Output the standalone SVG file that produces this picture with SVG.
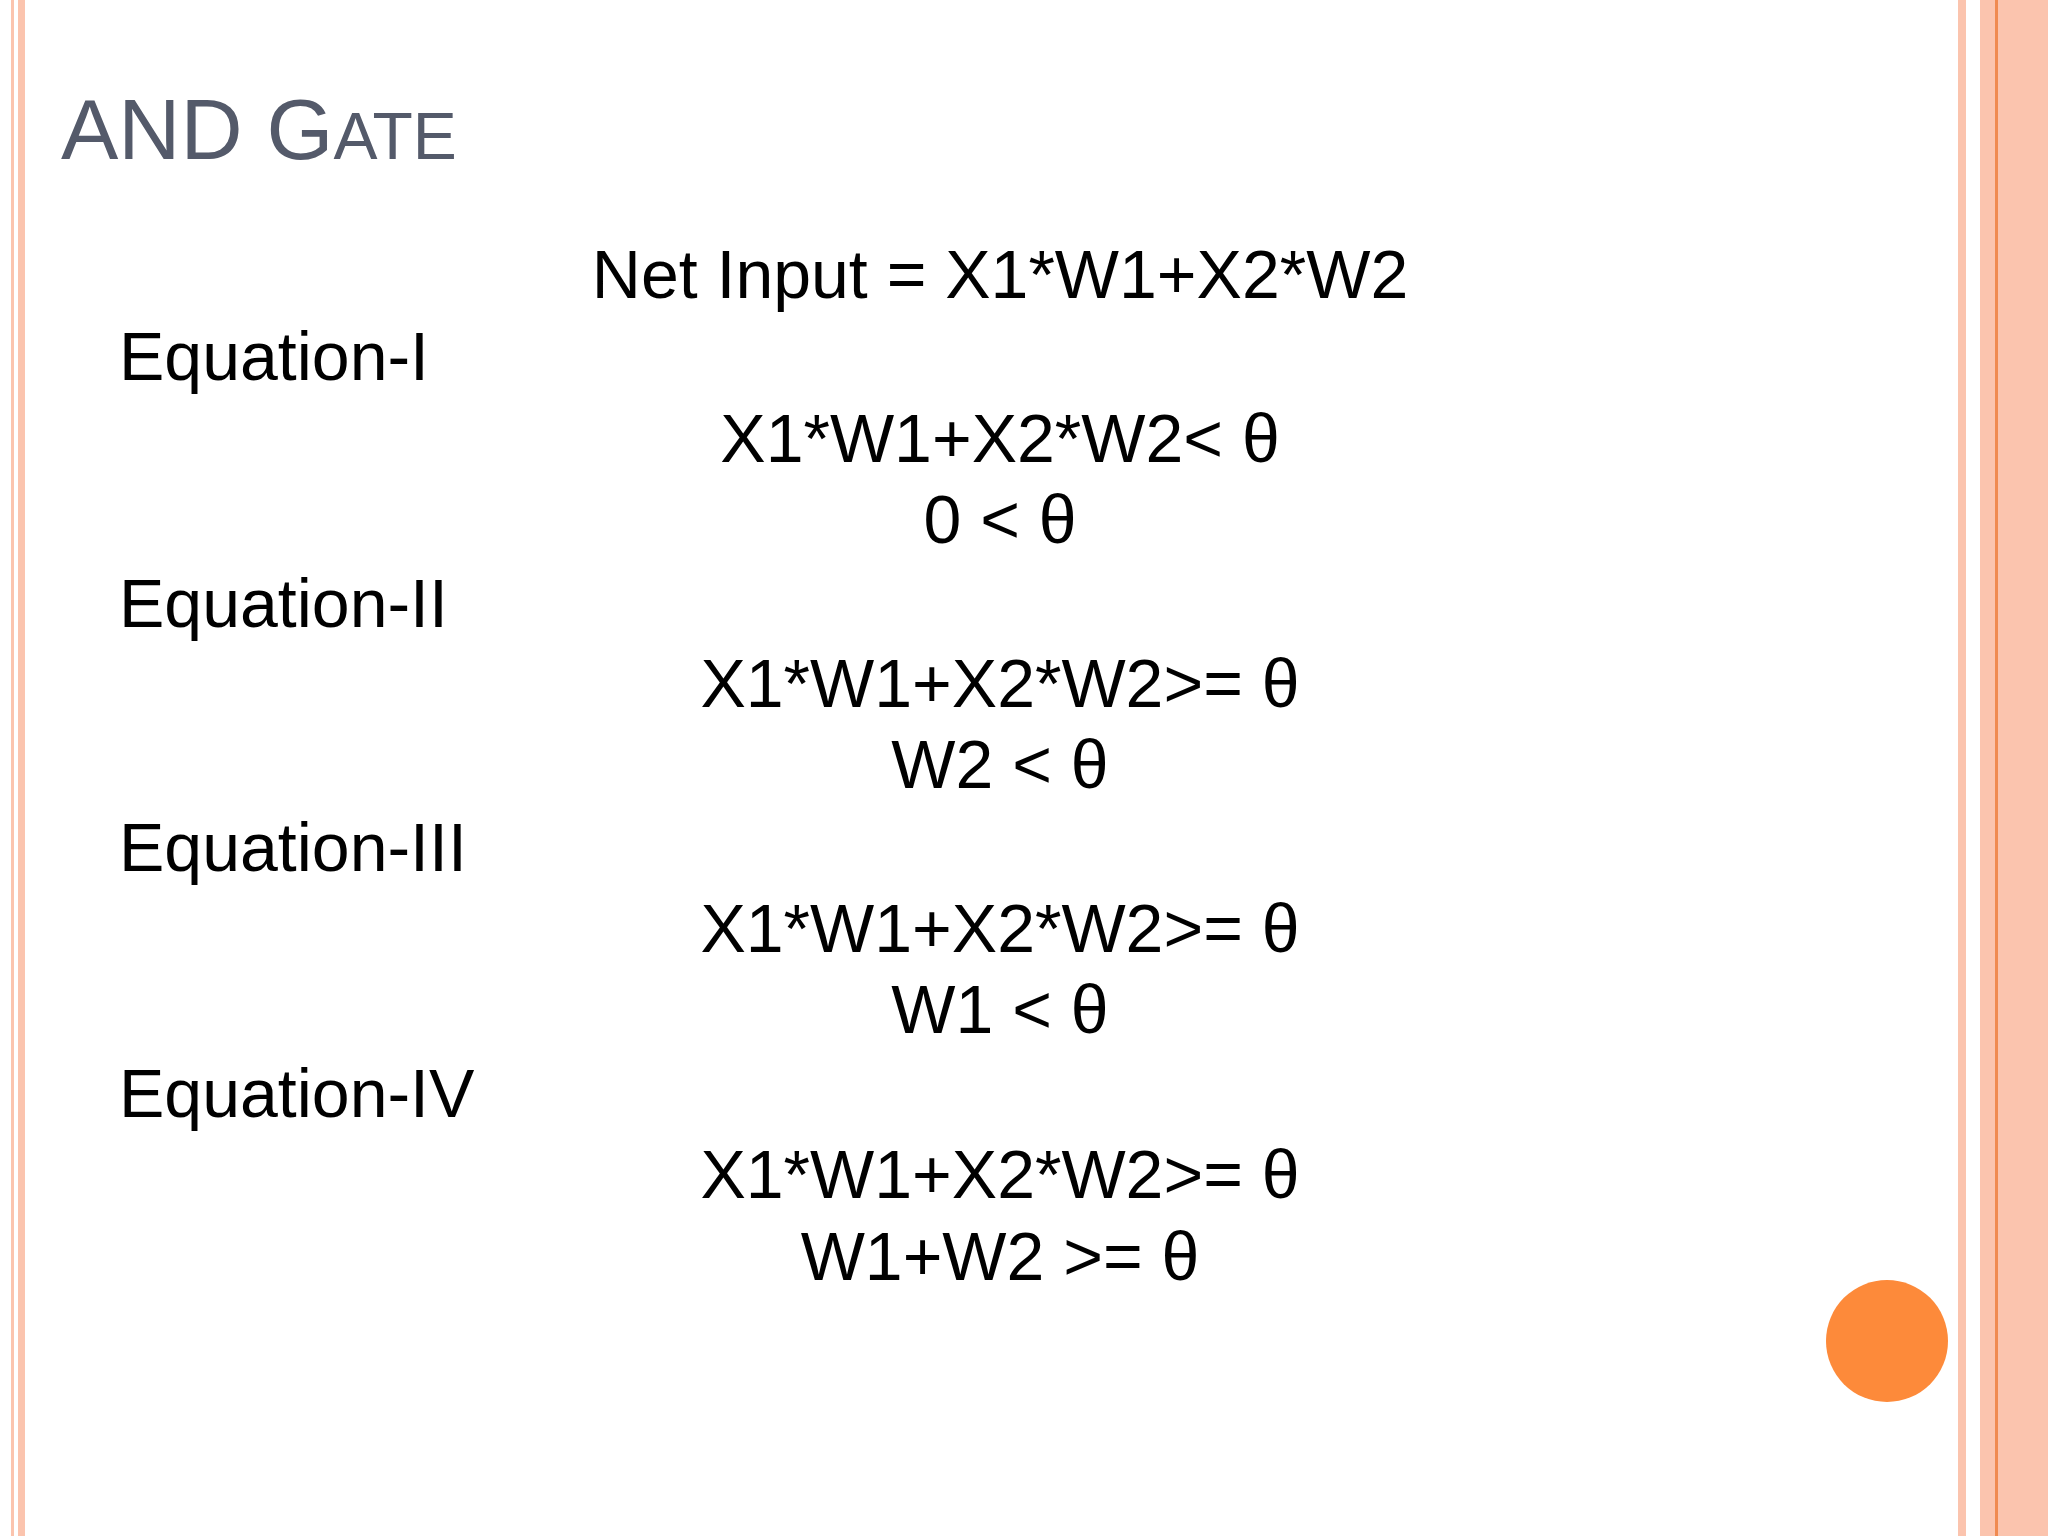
<svg xmlns="http://www.w3.org/2000/svg" width="2048" height="1536" viewBox="0 0 2048 1536">
<style>
.t{font-family:"Liberation Sans",Arial,sans-serif;font-size:68px;fill:#000}
.c{text-anchor:middle}
.s{fill:#FBC4AE}
</style>
<rect width="2048" height="1536" fill="#fff"/>
<g id="borders">
<rect class="s" x="11" y="0" width="3" height="1536"/>
<rect class="s" x="18" y="0" width="7" height="1536"/>
<rect class="s" x="1958" y="0" width="8" height="1536"/>
<rect class="s" x="1980" y="0" width="68" height="1536"/>
<rect x="1995" y="0" width="3" height="1536" fill="#F08A50"/>
</g>
<g id="title"><text x="61" y="159" font-family="Liberation Sans,Arial,sans-serif" font-size="86" fill="#545A6A">AND G<tspan font-size="66">ATE</tspan></text></g>
<g id="body">
<text class="t c" x="1000" y="298">Net Input = X1*W1+X2*W2</text>
<text class="t" x="119" y="380">Equation-I</text>
<text class="t c" x="1000" y="462">X1*W1+X2*W2&lt; θ</text>
<text class="t c" x="1000" y="543">0 &lt; θ</text>
<text class="t" x="119" y="627">Equation-II</text>
<text class="t c" x="1000" y="707">X1*W1+X2*W2&gt;= θ</text>
<text class="t c" x="1000" y="788">W2 &lt; θ</text>
<text class="t" x="119" y="871">Equation-III</text>
<text class="t c" x="1000" y="952">X1*W1+X2*W2&gt;= θ</text>
<text class="t c" x="1000" y="1033">W1 &lt; θ</text>
<text class="t" x="119" y="1117">Equation-IV</text>
<text class="t c" x="1000" y="1198">X1*W1+X2*W2&gt;= θ</text>
<text class="t c" x="1000" y="1280">W1+W2 &gt;= θ</text>
</g>
<circle id="dot" cx="1887" cy="1341" r="61" fill="#FD8A3A"/>
</svg>
